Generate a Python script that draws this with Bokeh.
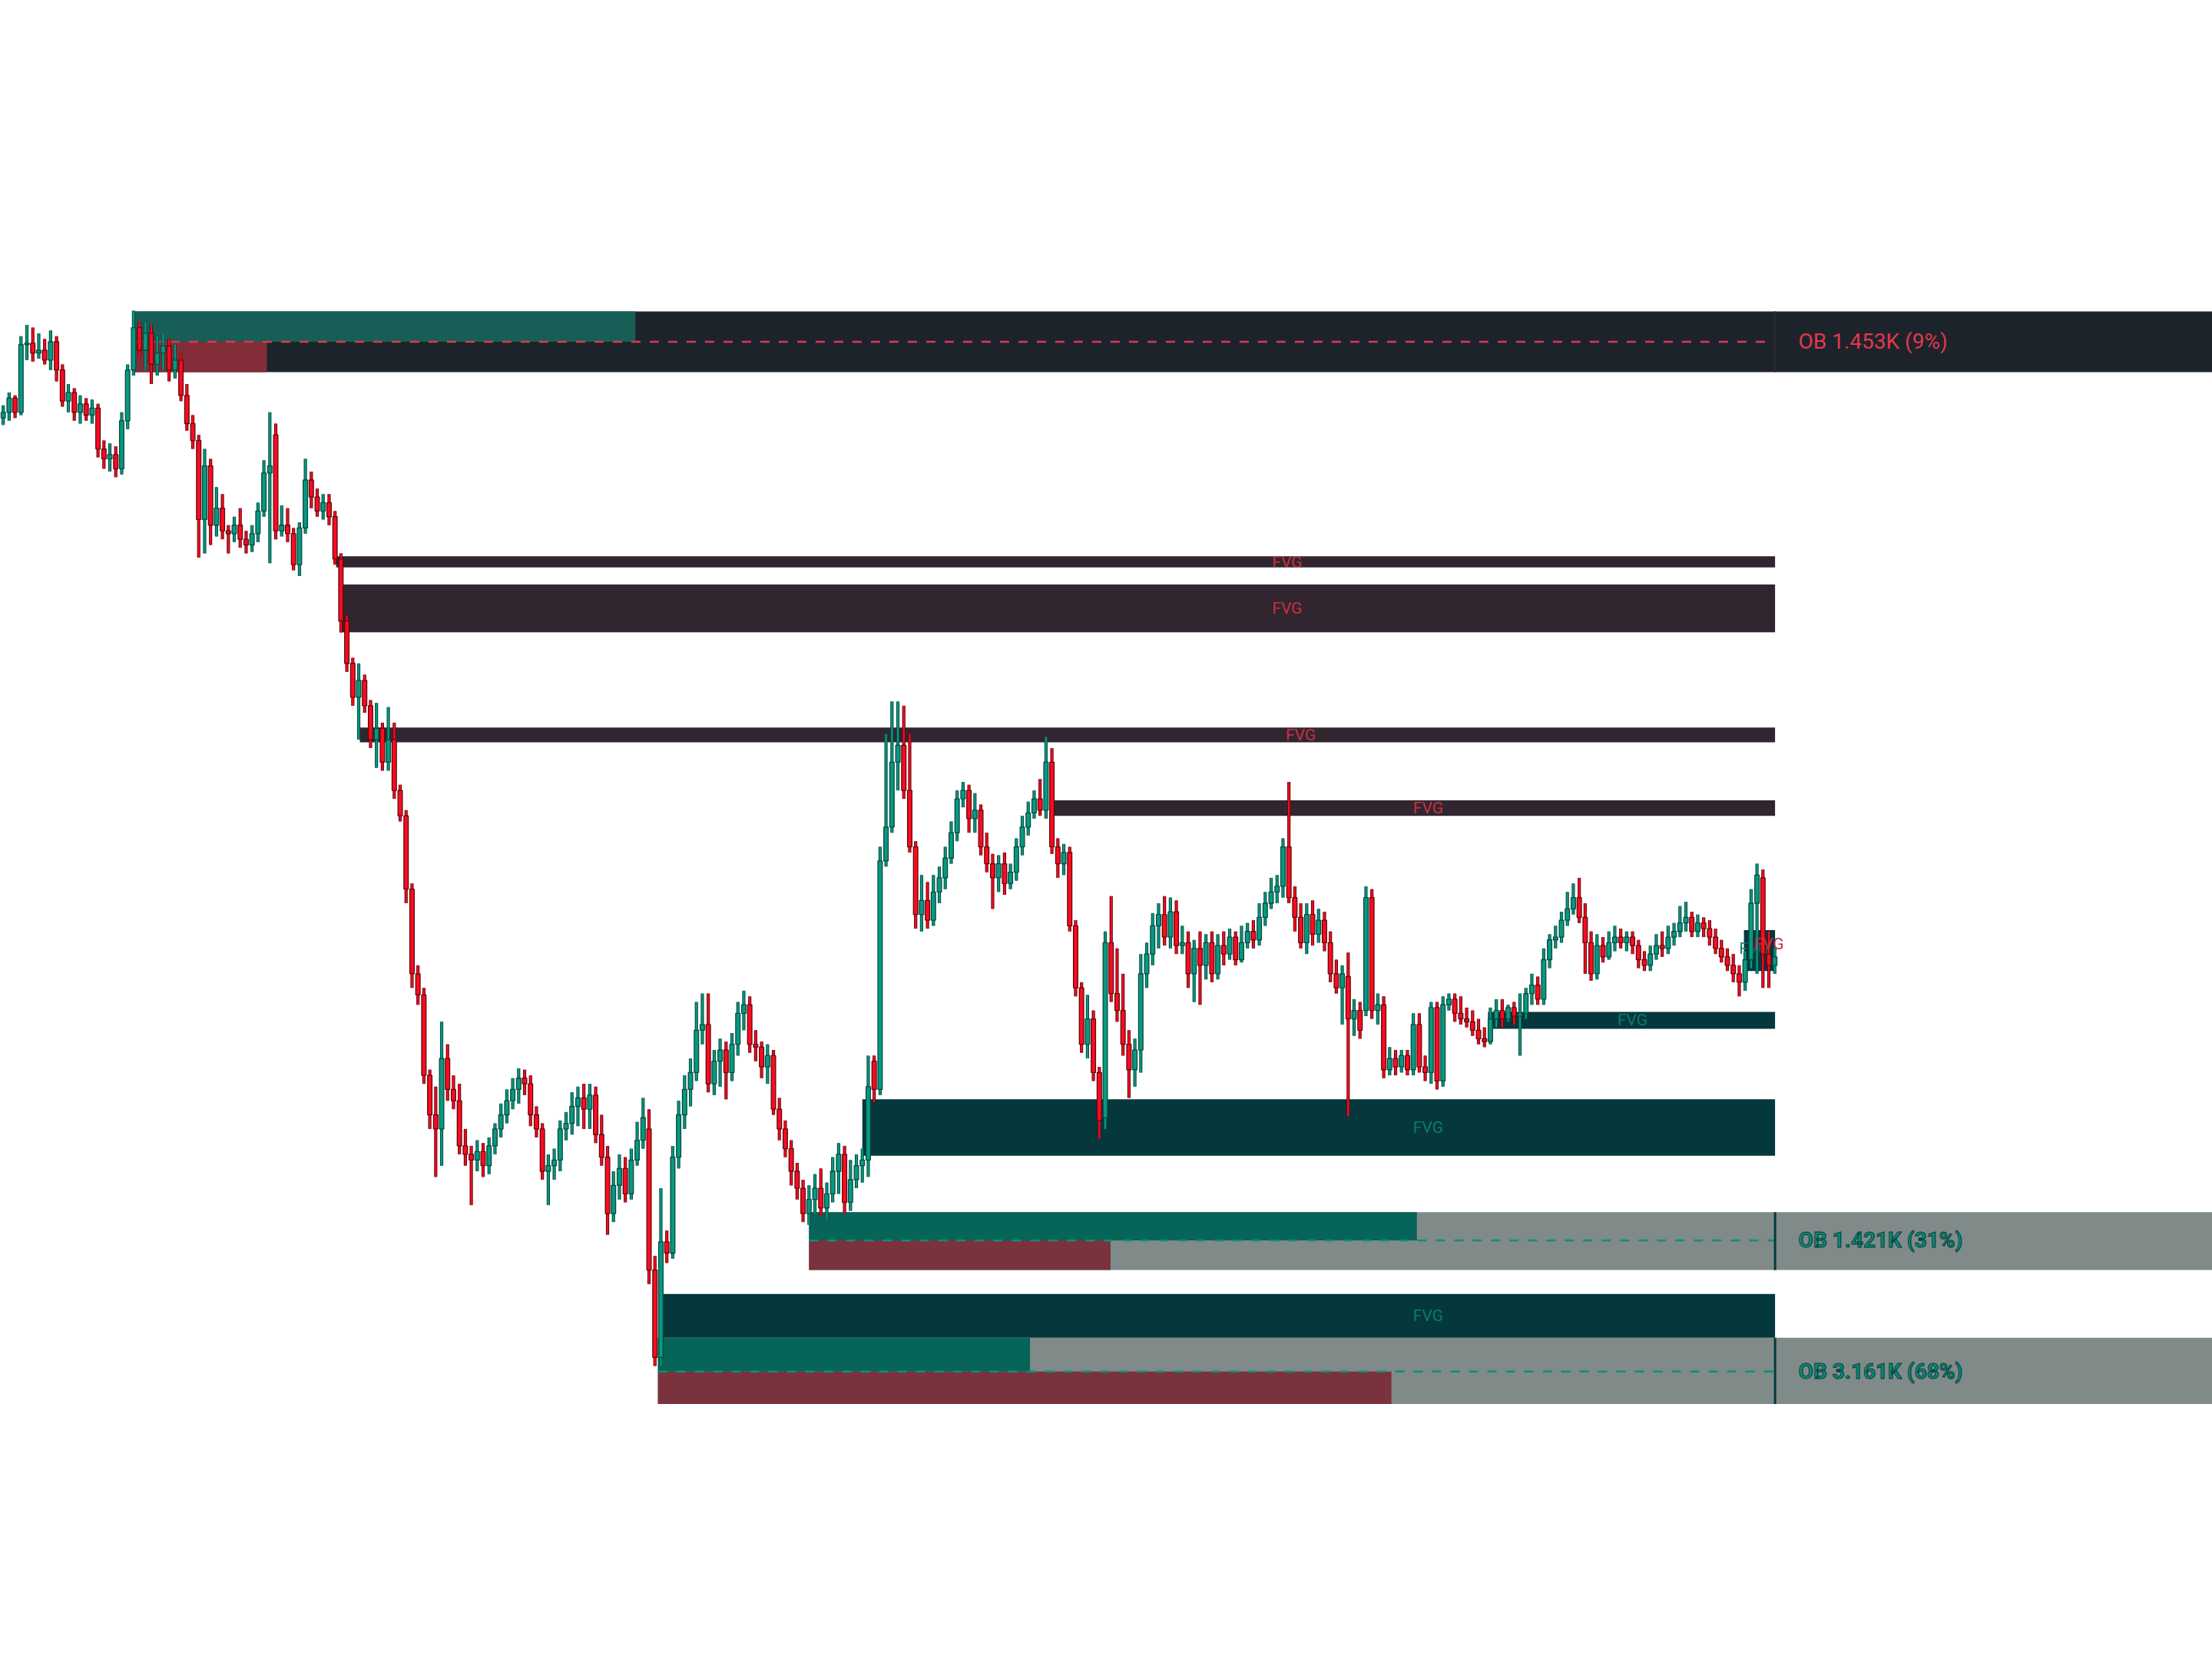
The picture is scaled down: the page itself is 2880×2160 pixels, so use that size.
from bokeh.plotting import figure
from bokeh.models import Range1d, ColumnDataSource
from bokeh.core.properties import value
from bokeh.embed import file_html
from bokeh.resources import INLINE

# ---------------- candle data (price units, one bar per entry) ----------------
opens = [
    904, 908, 918, 908, 956, 957, 950, 952, 945, 958,
    938, 916, 922, 908, 914, 906, 911, 882, 875, 878,
    868, 902, 938, 968, 952, 964, 942, 950, 955, 938,
    945, 920, 900, 888, 832, 870, 828, 840, 824, 822,
    828, 818, 814, 822, 838, 865, 892, 824, 828, 822,
    800, 826, 860, 848, 838, 844, 834, 804, 760, 730,
    706, 718, 700, 676, 684, 660, 676, 640, 622, 570,
    510, 495, 438, 410, 400, 450, 428, 420, 388, 382,
    378, 384, 374, 388, 400, 410, 420, 428, 436, 432,
    410, 400, 370, 374, 378, 400, 404, 416, 422, 414,
    424, 396, 380, 340, 360, 372, 354, 378, 392, 400,
    300, 238, 320, 312, 380, 410, 428, 440, 470, 474,
    432, 448, 456, 440, 460, 482, 488, 460, 458, 444,
    452, 414, 400, 386, 370, 358, 340, 350, 358, 344,
    354, 370, 382, 348, 364, 374, 378, 448, 428, 590,
    614, 660, 672, 640, 600, 552, 562, 548, 568, 578,
    592, 610, 634, 640, 620, 626, 600, 588, 578, 588,
    574, 582, 600, 614, 624, 634, 626, 660, 600, 588,
    596, 544, 500, 460, 478, 440, 408, 532, 496, 484,
    460, 442, 456, 510, 524, 544, 552, 536, 554, 530,
    532, 510, 528, 516, 532, 510, 530, 524, 536, 520,
    532, 540, 534, 550, 560, 568, 572, 600, 564, 550,
    532, 552, 538, 548, 532, 510, 500, 508, 478, 484,
    484, 564, 484, 488, 442, 450, 444, 452, 442, 474,
    444, 440, 486, 434, 488, 492, 482, 478, 476, 470,
    464, 462, 478, 484, 478, 486, 480, 482, 496, 502,
    492, 520, 534, 536, 548, 556, 564, 550, 532, 510,
    530, 522, 532, 536, 532, 536, 530, 520, 516, 524,
    530, 528, 536, 540, 546, 550, 540, 546, 542, 536,
    528, 522, 516, 510, 504, 520, 560, 578, 524, 516,
]
highs = [
    913, 922, 920, 962, 970, 968, 964, 960, 966, 962,
    942, 928, 925, 920, 918, 917, 914, 888, 886, 884,
    908, 942, 980, 972, 972, 970, 962, 964, 960, 956,
    950, 928, 906, 892, 882, 875, 855, 850, 828, 834,
    840, 824, 828, 844, 874, 908, 900, 842, 840, 826,
    830, 875, 866, 854, 850, 850, 838, 808, 764, 734,
    730, 722, 704, 702, 688, 699, 688, 644, 626, 574,
    516, 500, 442, 430, 476, 460, 438, 432, 400, 388,
    392, 390, 394, 404, 418, 428, 436, 443, 442, 438,
    416, 404, 382, 386, 406, 412, 426, 430, 432, 432,
    430, 410, 388, 370, 382, 380, 386, 405, 422, 414,
    310, 358, 328, 388, 420, 438, 450, 490, 496, 496,
    456, 464, 462, 468, 490, 498, 494, 470, 462, 460,
    456, 422, 406, 392, 376, 364, 360, 368, 372, 362,
    380, 390, 388, 378, 382, 386, 452, 452, 600, 680,
    703, 703, 700, 680, 604, 580, 575, 580, 586, 600,
    618, 640, 646, 644, 638, 630, 610, 595, 594, 596,
    588, 606, 622, 632, 640, 648, 678, 670, 606, 602,
    600, 548, 504, 495, 484, 444, 540, 565, 528, 510,
    470, 464, 524, 532, 553, 560, 565, 564, 562, 544,
    540, 534, 540, 538, 540, 538, 540, 542, 540, 544,
    546, 548, 560, 568, 578, 580, 606, 646, 572, 560,
    560, 562, 556, 554, 540, 520, 516, 525, 492, 490,
    572, 570, 496, 494, 458, 456, 456, 456, 482, 482,
    452, 490, 490, 494, 496, 496, 494, 486, 484, 478,
    472, 486, 492, 492, 488, 490, 496, 500, 510, 508,
    528, 538, 544, 554, 568, 574, 578, 560, 540, 538,
    536, 540, 544, 542, 540, 540, 534, 526, 530, 538,
    540, 544, 546, 558, 561, 554, 552, 550, 548, 542,
    534, 528, 524, 516, 526, 570, 588, 584, 540, 528,
]
lows = [
    899, 902, 904, 906, 945, 944, 946, 942, 938, 930,
    912, 908, 902, 900, 902, 900, 876, 868, 866, 862,
    864, 896, 934, 948, 938, 928, 934, 938, 930, 932,
    916, 895, 882, 805, 808, 814, 820, 818, 808, 816,
    812, 808, 809, 816, 834, 801, 818, 820, 816, 796,
    792, 822, 840, 834, 832, 828, 800, 752, 724, 700,
    676, 695, 670, 656, 654, 654, 634, 618, 560, 500,
    488, 432, 400, 366, 374, 420, 414, 382, 374, 346,
    370, 366, 368, 382, 394, 404, 414, 418, 424, 402,
    394, 364, 346, 364, 370, 392, 396, 402, 400, 400,
    390, 374, 325, 334, 350, 348, 350, 374, 386, 290,
    232, 232, 305, 308, 372, 400, 416, 434, 460, 426,
    424, 430, 421, 434, 452, 470, 454, 448, 436, 432,
    410, 392, 380, 360, 350, 334, 332, 340, 338, 336,
    348, 354, 340, 342, 358, 362, 366, 419, 424, 586,
    610, 640, 634, 596, 542, 540, 542, 544, 560, 570,
    588, 604, 628, 610, 610, 594, 582, 556, 568, 566,
    570, 576, 594, 608, 620, 622, 620, 595, 578, 580,
    540, 494, 454, 450, 434, 393, 400, 490, 476, 452,
    422, 430, 440, 500, 516, 528, 530, 528, 524, 524,
    500, 490, 488, 506, 504, 506, 516, 520, 516, 518,
    528, 528, 530, 544, 556, 560, 564, 560, 540, 528,
    524, 530, 532, 526, 504, 496, 474, 409, 466, 464,
    480, 478, 474, 436, 438, 438, 440, 438, 438, 440,
    434, 432, 428, 430, 484, 476, 474, 472, 466, 460,
    458, 460, 472, 472, 476, 474, 452, 478, 488, 488,
    488, 514, 528, 532, 544, 552, 546, 510, 505, 506,
    518, 520, 526, 528, 526, 524, 514, 512, 512, 520,
    522, 524, 530, 536, 540, 536, 536, 536, 530, 524,
    518, 512, 504, 494, 498, 514, 510, 500, 500, 510,
]
closes = [
    908, 918, 908, 956, 957, 950, 952, 945, 958, 938,
    916, 922, 908, 914, 906, 911, 882, 875, 878, 868,
    902, 938, 968, 952, 964, 942, 950, 955, 938, 945,
    920, 900, 888, 832, 870, 828, 840, 824, 822, 828,
    818, 814, 822, 838, 865, 870, 824, 828, 822, 800,
    826, 860, 848, 838, 844, 834, 804, 760, 730, 706,
    718, 700, 676, 684, 660, 676, 640, 622, 570, 510,
    495, 438, 410, 400, 450, 428, 420, 388, 382, 378,
    384, 374, 388, 400, 410, 420, 428, 436, 432, 410,
    400, 370, 374, 378, 400, 404, 416, 422, 414, 424,
    396, 380, 340, 360, 372, 354, 378, 392, 408, 300,
    238, 320, 312, 380, 410, 428, 440, 470, 474, 432,
    448, 456, 440, 460, 482, 488, 460, 458, 444, 452,
    414, 400, 386, 370, 358, 340, 350, 358, 344, 354,
    370, 382, 348, 364, 374, 378, 430, 428, 590, 614,
    660, 672, 640, 600, 552, 562, 548, 568, 578, 592,
    610, 634, 640, 620, 626, 600, 588, 578, 588, 574,
    582, 600, 614, 624, 634, 626, 660, 600, 588, 596,
    544, 500, 460, 478, 440, 406, 532, 496, 484, 460,
    442, 456, 510, 524, 544, 552, 536, 554, 530, 532,
    510, 528, 516, 532, 510, 530, 524, 536, 520, 532,
    540, 534, 550, 560, 568, 572, 600, 564, 550, 532,
    552, 538, 548, 532, 510, 500, 510, 478, 484, 470,
    564, 484, 488, 442, 450, 444, 452, 442, 474, 444,
    440, 486, 434, 488, 492, 482, 478, 476, 470, 464,
    462, 478, 484, 478, 486, 480, 482, 496, 502, 492,
    520, 534, 536, 548, 556, 564, 550, 532, 510, 530,
    522, 532, 536, 532, 536, 530, 520, 516, 524, 530,
    528, 536, 540, 546, 550, 540, 546, 542, 536, 528,
    522, 516, 510, 504, 520, 560, 580, 524, 516, 522,
]

# ---------------- fair value gaps ----------------
fvg_start = [56.2, 56.8, 60.2, 176.9, 250.6, 145.0, 111.4, 293.8]
fvg_top = [806, 786, 684.5, 633, 483, 421, 283, 541]
fvg_bottom = [798, 752, 674, 622, 471, 381, 252, 512]
fvg_kind = ["bear", "bear", "bear", "bear", "bull", "bull", "bull", "bull"]

# ---------------- order blocks ----------------
ob_text = ["OB 1.453K (9%)", "OB 1.421K (31%)", "OB 3.161K (68%)"]
ob_kind = ["bear", "bull", "bull"]
ob_start = [22, 136, 110.5]
ob_top = [979.5, 341, 252]
ob_mid = [958, 321, 228]
ob_bottom = [936.5, 300, 205]
ob_buy_end = [106.7, 238.6, 173.3]
ob_sell_end = [44.5, 186.9, 234.3]

# ---------------- styling ----------------
UP = "#089981"
DOWN = "#ff0a1e"
UP_EDGE = "#074a3f"
DOWN_EDGE = "#5a0a12"

n = len(closes)
bars = list(range(n))
last = n - 1 + 0.05
far_right = 380

p = figure(width=2880, height=2160, output_backend="svg", toolbar_location=None,
           x_range=Range1d(-0.476, 372.86), y_range=Range1d(24.0, 1200.0),
           x_axis_location=None, y_axis_location=None, min_border=0,
           background_fill_color="white", border_fill_color="white",
           outline_line_color=None)
p.grid.visible = False

# order-block backgrounds (extend to the right edge)
ob_base = ["#1d232b" if k == "bear" else "#808a89" for k in ob_kind]
p.quad(left=ob_start, right=[far_right] * 3, top=ob_top, bottom=ob_bottom,
       fill_color=ob_base, line_color=None)

# fair value gap boxes
fvg_fill = ["#312630" if k == "bear" else "#04383d" for k in fvg_kind]
p.quad(left=fvg_start, right=[last] * len(fvg_start), top=fvg_top, bottom=fvg_bottom,
       fill_color=fvg_fill, line_color=None)

# order-block volume bars
buy_col = ["#165e56" if k == "bear" else "#066458" for k in ob_kind]
sell_col = ["#842d3a" if k == "bear" else "#7a333d" for k in ob_kind]
p.quad(left=ob_start, right=ob_buy_end, top=ob_top, bottom=ob_mid,
       fill_color=buy_col, line_color=None)
p.quad(left=ob_start, right=ob_sell_end, top=ob_mid, bottom=ob_bottom,
       fill_color=sell_col, line_color=None)

# mid lines and current-bar separators
mid_col = ["#e0394b" if k == "bear" else "#0b8f7b" for k in ob_kind]
p.segment(x0=ob_start, y0=ob_mid, x1=[last] * 3, y1=ob_mid,
          line_color=mid_col, line_width=2.5, line_dash="12 12")
sep_col = ["#2c2731" if k == "bear" else "#053a3c" for k in ob_kind]
p.segment(x0=[last] * 3, y0=ob_top, x1=[last] * 3, y1=ob_bottom,
          line_color=sep_col, line_width=3)

# faint bullish label hidden behind the last candles
p.text(x=[295.5], y=[528], text=["FVG"], text_font=value("Roboto"),
       text_font_size=value("21px"), text_color="#0c7a69",
       text_align="center", text_baseline="middle")

# candles
is_up = [c >= o for o, c in zip(opens, closes)]
src = ColumnDataSource(dict(
    x=bars, o=opens, h=highs, l=lows, c=closes,
    top=[max(o, c) for o, c in zip(opens, closes)],
    bot=[min(o, c) for o, c in zip(opens, closes)],
    col=[UP if u else DOWN for u in is_up],
    edge=[UP_EDGE if u else DOWN_EDGE for u in is_up],
))
p.segment(x0="x", y0="h", x1="x", y1="l", source=src, line_color="edge", line_width=4.2)
p.segment(x0="x", y0="h", x1="x", y1="l", source=src, line_color="col", line_width=2.2)
p.vbar(x="x", width=0.74, top="top", bottom="bot", source=src,
       fill_color="col", line_color="edge", line_width=1.3)

# FVG labels
lab_x = [216.7, 216.7, 219, 240.5, 275, 240.5, 240.5, 298]
lab_y = [802, 769, 679, 627.5, 477, 401, 267.5, 531]
lab_col = ["#c8303f" if k == "bear" else "#0c7a69" for k in fvg_kind]
lab_col[-1] = "#c8303f"
p.text(x=lab_x, y=lab_y, text=["FVG"] * len(lab_x), text_font=value("Roboto"),
       text_font_size=value("21px"), text_color=lab_col,
       text_align="center", text_baseline="middle")

# order-block labels
p.text(x=[303], y=[ob_mid[0]], text=[ob_text[0]], text_font=value("Roboto"),
       text_font_size=value("28px"), text_color="#e0394b",
       text_align="left", text_baseline="middle")
p.text(x=[303, 303], y=ob_mid[1:], text=ob_text[1:], text_font=value("Roboto"),
       text_font_size=value("28px"), text_font_style="bold", text_color="#0a8a75",
       text_outline_color="#053d3c",
       text_align="left", text_baseline="middle")

open("out.html", "w").write(file_html(p, INLINE))
